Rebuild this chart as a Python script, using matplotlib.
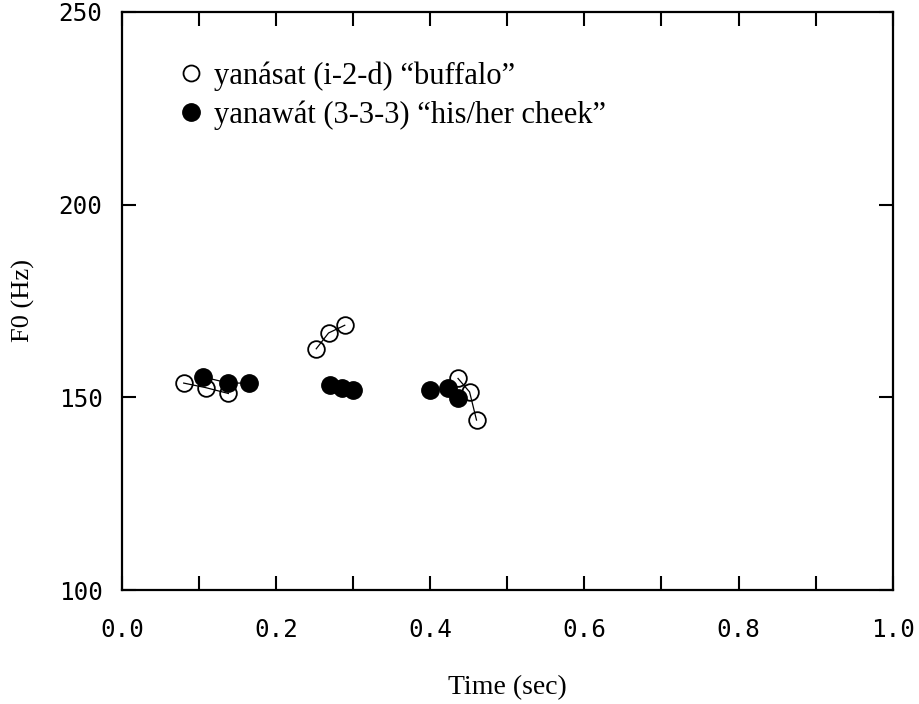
"""
F0 contours: yanásat vs yanawát.
"""

import matplotlib
matplotlib.use('Agg')
import matplotlib.pyplot as plt
from matplotlib.lines import Line2D
from matplotlib.ticker import MultipleLocator

# open circles: yanásat (i-2-d) "buffalo", one list per syllable
open_time = [[0.080, 0.109, 0.138], [0.252, 0.268, 0.289], [0.436, 0.451, 0.460]]
open_f0 = [[153.7, 152.5, 151.0], [162.6, 166.7, 168.7], [154.9, 151.4, 144.1]]

# filled circles: yanawát (3-3-3) "his/her cheek"
fill_time = [[0.105, 0.138, 0.165], [0.270, 0.285, 0.300], [0.400, 0.423, 0.436]]
fill_f0 = [[155.3, 153.7, 153.7], [153.1, 152.3, 151.8], [151.8, 152.3, 149.7]]

labels = ['yanásat (i-2-d) “buffalo”', 'yanawát (3-3-3) “his/her cheek”']

serif = ['Liberation Serif', 'DejaVu Serif']
mono = ['DejaVu Sans Mono']

fig = plt.figure(figsize=(9.19, 7.04), dpi=100)
ax = fig.add_axes([0.1328, 0.1619, 0.8385, 0.8211])

for t, f in zip(open_time, open_f0):
    ax.plot(t, f, color='black', linewidth=0.9, marker='o', markersize=12,
            markerfacecolor='none', markeredgecolor='black', markeredgewidth=1.3)
for t, f in zip(fill_time, fill_f0):
    ax.plot(t, f, color='black', linewidth=0.9, marker='o', markersize=12.5,
            markerfacecolor='black', markeredgecolor='black')

ax.set_xlim(0, 1.0)
ax.set_ylim(100, 250)
ax.xaxis.set_major_locator(MultipleLocator(0.2))
ax.xaxis.set_minor_locator(MultipleLocator(0.1))
ax.yaxis.set_major_locator(MultipleLocator(50))
ax.xaxis.set_major_formatter(plt.FuncFormatter(lambda v, p: f'{v:.1f}'))

ax.tick_params(which='both', direction='in', top=True, right=True,
               width=1.5, length=10, labelsize=17.5)
ax.tick_params(axis='x', pad=20)
ax.tick_params(axis='y', pad=14)
for lab in ax.get_xticklabels() + ax.get_yticklabels():
    lab.set_family(mono)
for s in ax.spines.values():
    s.set_linewidth(1.6)

ax.set_xlabel('Time (sec)', family=serif, fontsize=20, labelpad=24)
ax.set_ylabel('F0 (Hz)', family=serif, fontsize=19, labelpad=17)

handles = [
    Line2D([], [], linestyle='none', marker='o', markersize=11.5,
           markerfacecolor='none', markeredgecolor='black', markeredgewidth=1.3),
    Line2D([], [], linestyle='none', marker='o', markersize=12.5,
           markerfacecolor='black', markeredgecolor='black'),
]
ax.legend(handles, labels, loc='upper left', bbox_to_anchor=(0.0798, 0.915),
          borderaxespad=0, borderpad=0, frameon=False,
          prop={'family': serif, 'size': 22},
          handlelength=0.5, handletextpad=0.5, labelspacing=0.33)

plt.savefig('out.png', dpi=100)
